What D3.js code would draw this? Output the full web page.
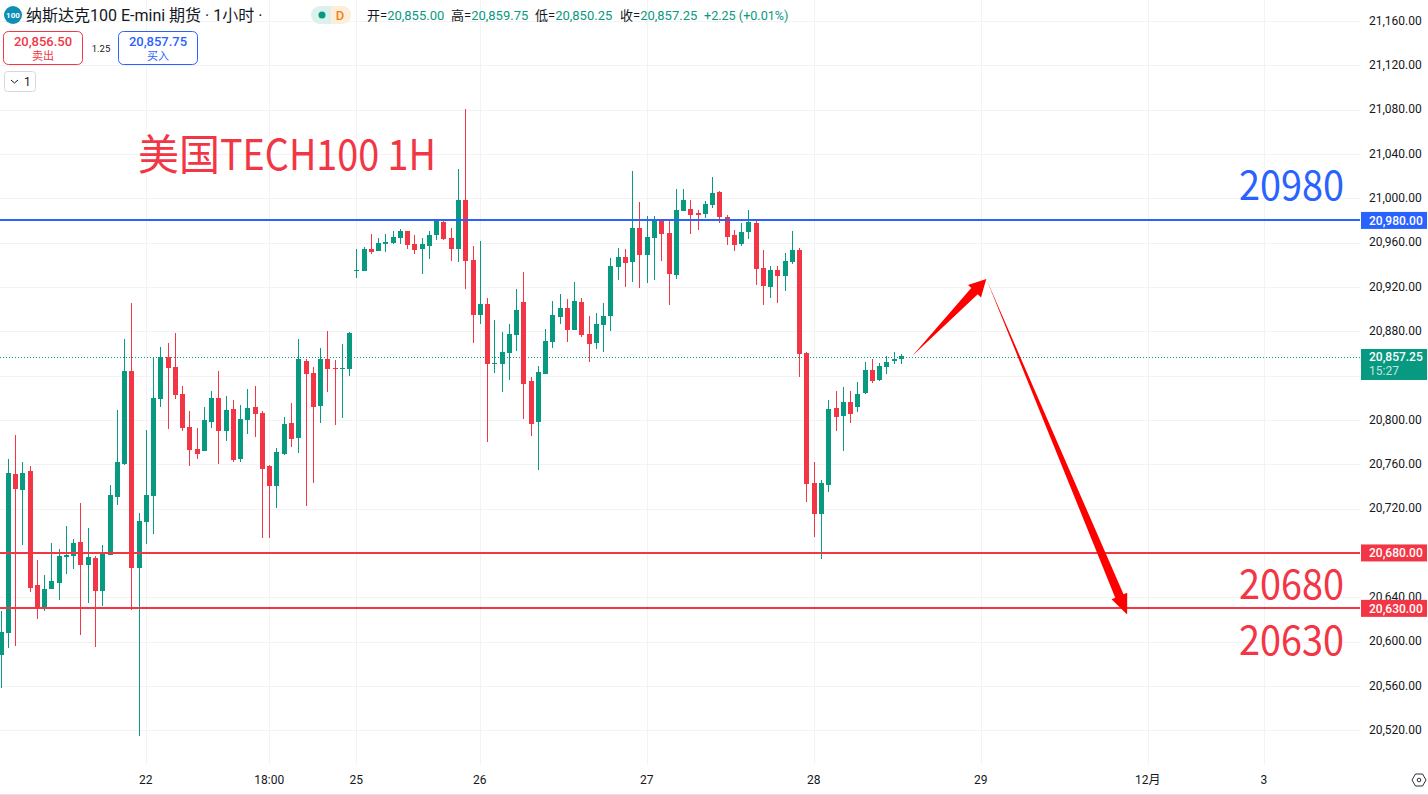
<!DOCTYPE html>
<html>
<head>
<meta charset="utf-8">
<title>美国TECH100 1H</title>
<script src="https://cdnjs.cloudflare.com/ajax/libs/d3/7.8.5/d3.min.js"></script>
<style>
  html, body { margin: 0; padding: 0; background: #fff; overflow: hidden; }
  svg { display: block; font-family: Roboto, "Noto Sans CJK SC", sans-serif; }
</style>
</head>
<body>
<div id="chart"></div>
<script>
// Hourly bars, oldest first
const opens = [
  20588, 20608, 20751, 20737, 20754, 20651, 20630.5, 20647.5, 20653, 20676.5, 20677, 20690, 20669, 20675.5, 20645.5, 20678, 20730.5, 20760, 20844, 20666.5, 20708, 20731.5, 20819, 20857, 20848,
  20823.5, 20793.5, 20774, 20772, 20798, 20820, 20790, 20810, 20765, 20800, 20811.5, 20806, 20758.5, 20740.5, 20769, 20797, 20783.5, 20853, 20842.5, 20812.5, 20855, 20847, 20846, 20846,
  20934.5, 20934.5, 20954, 20952.5, 20959, 20959.5, 20964, 20970.5, 20959, 20954, 20957, 20967, 20978.5, 20964, 20954, 20998.5, 20944.5, 20894.5, 20904.5, 20850.5, 20850.5, 20860.5, 20876.5, 20906.5, 20835, 20798, 20841.5,
  20870.5, 20893, 20901, 20881, 20906.5, 20877.5, 20869.5, 20885.5, 20894, 20938, 20947, 20942.5, 20973, 20949, 20964, 20981.5, 20968.5, 20931, 20988.5, 20990.5, 20987, 20986, 20994, 21005.5, 20983, 20967,
  20959, 20969.5, 20977.5, 20937, 20920, 20935.5, 20930, 20942.5, 20953.5, 20860.5, 20743, 20715, 20741,
  20811, 20803.5, 20816, 20811.5, 20824.5, 20845, 20836, 20848, 20853.5, 20855
];
const highs = [
  20628, 20765, 20786.5, 20762, 20758.5, 20674, 20660, 20689, 20683.5, 20704.5, 20692.5, 20725, 20702.5, 20677, 20687, 20741, 20809, 20873, 20905.5, 20716, 20791, 20857, 20866, 20869.5, 20878.5,
  20830.5, 20808, 20793, 20811.5, 20826, 20844, 20821.5, 20818, 20813.5, 20828, 20830.5, 20808, 20759.5, 20774.5, 20802.5, 20815, 20873, 20855, 20848, 20865, 20880.5, 20854, 20868.5, 20879.5,
  20954, 20956, 20968, 20964, 20968, 20970.5, 20972, 20970.5, 20967, 20964, 20970.5, 20980.5, 20980.5, 20973, 21026.5, 21080.5, 20957, 20961.5, 20910, 20890, 20879.5, 20886.5, 20918, 20933.5, 20839, 20848.5, 20882,
  20907.5, 20913.5, 20909, 20924.5, 20910, 20894, 20896.5, 20905.5, 20946, 20955, 20954.5, 21024.5, 20996.5, 20984, 20984, 20981.5, 20981.5, 21008.5, 21008.5, 20998.5, 20989.5, 20997.5, 21019, 21006.5, 20985, 20971.5,
  20977.5, 20989.5, 20981.5, 20953.5, 20939, 20939, 20950.5, 20970.5, 20955, 20861.5, 20762, 20746, 20818,
  20826, 20830, 20826, 20834.5, 20852.5, 20855, 20851.5, 20858, 20861.5, 20859.75
];
const lows = [
  20558.5, 20594, 20596, 20687, 20645, 20620.5, 20628, 20647.5, 20637.5, 20661, 20665.5, 20606, 20635, 20595, 20632, 20678, 20723, 20759.5, 20628.5, 20515, 20688, 20697, 20812, 20792, 20819,
  20790, 20758.5, 20765, 20772, 20793, 20760.5, 20781, 20762, 20762, 20787.5, 20784.5, 20693.5, 20693.5, 20720.5, 20768.5, 20775.5, 20770, 20722.5, 20743, 20797, 20825, 20795.5, 20802, 20839.5,
  20928, 20934.5, 20949.5, 20952.5, 20951.5, 20959, 20959, 20954, 20949.5, 20931.5, 20945, 20962.5, 20962.5, 20943.5, 20942.5, 20918, 20869.5, 20886.5, 20780, 20842.5, 20825, 20836, 20862, 20801, 20785.5, 20755, 20841.5,
  20865, 20886.5, 20870.5, 20881, 20875, 20852.5, 20864, 20861.5, 20880.5, 20926.5, 20920, 20924.5, 20919, 20923.5, 20926.5, 20943.5, 20904, 20927, 20988.5, 20968, 20971.5, 20982.5, 20991.5, 20978, 20958, 20952.5,
  20957, 20963.5, 20922, 20903.5, 20910, 20905.5, 20916.5, 20940.5, 20839, 20726, 20694.5, 20674.5, 20735,
  20790, 20772, 20797.5, 20807, 20823.5, 20833.5, 20835, 20841.5, 20850.5, 20850.25
];
const closes = [
  20609, 20752, 20738, 20752, 20648.5, 20630.5, 20647.5, 20655, 20677, 20678, 20689, 20669, 20676.5, 20645.5, 20680, 20732, 20762, 20844, 20666.5, 20709, 20732, 20820, 20857, 20847, 20822.5,
  20793, 20773, 20769, 20800, 20820, 20790, 20809, 20764, 20801, 20811, 20805.5, 20756, 20740.5, 20771, 20796.5, 20783, 20855, 20841.5, 20811.5, 20855, 20846, 20846, 20847, 20878.5,
  20935, 20954, 20951.5, 20959.5, 20960.5, 20965, 20970.5, 20958, 20953.5, 20959, 20967, 20979.5, 20963.5, 20954, 20998.5, 20943.5, 20894.5, 20904.5, 20850.5, 20851.5, 20861.5, 20877.5, 20899, 20832.5, 20796.5, 20843.5, 20871,
  20894.5, 20901, 20881, 20907.5, 20876.5, 20868.5, 20886.5, 20894, 20939, 20947, 20941.5, 20973, 20949, 20965, 20981.5, 20968, 20931.5, 20989.5, 20998.5, 20985, 20985, 20995, 21005, 20983, 20965, 20958,
  20969.5, 20978.5, 20936, 20921, 20935.5, 20930, 20943.5, 20953.5, 20859.5, 20742, 20715, 20743, 20810,
  20802.5, 20816, 20805.5, 20823.5, 20845, 20835, 20848.5, 20852.5, 20855, 20857.25
];

const priceTicks = d3.range(20520, 21161, 40);
const hiddenPriceLabels = [20840];   // sits behind the current price tag
const timeTickBars = [20, 37, 49, 66, 89, 112, 135, 158, 174];
const timeTickLabels = ['22', '18:00', '25', '26', '27', '28', '29', '12月', '3'];

const levelValues = [20980, 20680, 20630];
const levelKinds = ['blue', 'red', 'red'];
const lastPrice = 20857.25;
const countdown = '15:27';

// Drawn arrows in bar number / price
const arrowBars = [125.5, 135.7, 155.1];
const arrowPrices = [20857.7, 20927.2, 20624.5];

const headerValues = ['20,855.00', '20,859.75', '20,850.25', '20,857.25'];
const headerLabels = ['开', '高', '低', '收'];

const colors = {
  up: '#089981', down: '#f23645', blue: '#2962ff', red: '#f23645',
  grid: '#f3f3f3', text: '#131722', arrow: '#ff0000'
};

const width = 1428, height = 795, plotRight = 1361;

const svg = d3.select('#chart').append('svg')
  .attr('width', width)
  .attr('height', height);

const x = d3.scaleLinear().domain([0, 100]).range([1.1, 727.1]);
const y = d3.scaleLinear().domain([20520, 21160]).range([730.3, 20.9]);

// Grid
const grid = svg.append('g').attr('shape-rendering', 'crispEdges');
grid.selectAll('.h')
  .data(priceTicks)
  .enter().append('line')
  .attr('x1', 0).attr('x2', plotRight - 1)
  .attr('y1', d => Math.round(y(d)) + 0.5).attr('y2', d => Math.round(y(d)) + 0.5)
  .attr('stroke', colors.grid);
grid.selectAll('.v')
  .data(timeTickBars)
  .enter().append('line')
  .attr('x1', d => Math.floor(x(d)) + 0.5).attr('x2', d => Math.floor(x(d)) + 0.5)
  .attr('y1', 0).attr('y2', 764)
  .attr('stroke', colors.grid);

// Current price dotted line
svg.append('line')
  .attr('x1', 0).attr('x2', plotRight - 1)
  .attr('y1', Math.ceil(y(lastPrice)) + 0.5).attr('y2', Math.ceil(y(lastPrice)) + 0.5)
  .attr('stroke', colors.up)
  .attr('stroke-dasharray', '1 2');

// Candles
const bars = opens.map((o, i) => ({i, o, h: highs[i], l: lows[i], c: closes[i]}));
const candles = svg.append('g').attr('shape-rendering', 'crispEdges')
  .selectAll('g')
  .data(bars)
  .enter().append('g')
  .attr('fill', d => d.c >= d.o ? colors.up : colors.down);
candles.append('rect')
  .attr('x', d => Math.floor(x(d.i)))
  .attr('width', 1)
  .attr('y', d => y(d.h))
  .attr('height', d => y(d.l) - y(d.h));
candles.append('rect')
  .attr('x', d => Math.floor(x(d.i)) - 2)
  .attr('width', 5)
  .attr('y', d => y(Math.max(d.o, d.c)))
  .attr('height', d => Math.max(1, Math.abs(y(d.o) - y(d.c))));

// Horizontal levels
svg.append('g').attr('shape-rendering', 'crispEdges')
  .selectAll('line')
  .data(levelValues)
  .enter().append('line')
  .attr('x1', 0).attr('x2', plotRight - 1)
  .attr('y1', d => y(d)).attr('y2', d => y(d))
  .attr('stroke', (d, i) => colors[levelKinds[i]])
  .attr('stroke-width', 2);

// Arrow polygon from a to b, shaft tapers from a point
function arrowPath(a, b, headLen, headHalf, shaftHalf) {
  const dx = b[0] - a[0], dy = b[1] - a[1];
  const len = Math.hypot(dx, dy);
  const ux = dx / len, uy = dy / len;
  const nx = -uy, ny = ux;
  const bx = b[0] - ux * headLen, by = b[1] - uy * headLen;
  const pts = [
    a,
    [bx + nx * shaftHalf, by + ny * shaftHalf],
    [bx + nx * headHalf, by + ny * headHalf],
    b,
    [bx - nx * headHalf, by - ny * headHalf],
    [bx - nx * shaftHalf, by - ny * shaftHalf]
  ];
  return d3.line()(pts) + 'Z';
}
const arrowPts = arrowBars.map((b, i) => [x(b), y(arrowPrices[i])]);
svg.append('path').attr('d', arrowPath(arrowPts[0], arrowPts[1], 17, 9, 4.5)).attr('fill', colors.arrow);
svg.append('path').attr('d', arrowPath(arrowPts[1], arrowPts[2], 20, 8.5, 4.5)).attr('fill', colors.arrow);

// Price axis
const yAxis = svg.append('g')
  .attr('transform', `translate(${plotRight},0)`)
  .call(d3.axisRight(y)
    .tickValues(priceTicks.filter(d => !hiddenPriceLabels.includes(d)))
    .tickFormat(d3.format(',.2f'))
    .tickSize(0)
    .tickPadding(8));
yAxis.select('.domain').remove();
yAxis.selectAll('text')
  .attr('dy', '0.26em')
  .style('font-size', '12px')
  .style('font-family', 'Roboto, sans-serif')
  .style('fill', colors.text);

// Time axis
const xAxis = svg.append('g')
  .attr('transform', 'translate(-1,772)')
  .call(d3.axisBottom(x).tickValues(timeTickBars).tickFormat((d, i) => timeTickLabels[i]).tickSize(0).tickPadding(3));
xAxis.select('.domain').remove();
xAxis.selectAll('text')
  .style('font-size', '12px')
  .style('font-family', 'Roboto, "Noto Sans CJK SC", sans-serif')
  .style('fill', colors.text);
svg.append('line')
  .attr('x1', 0).attr('x2', width)
  .attr('y1', 794.5).attr('y2', 794.5)
  .attr('stroke', '#e0e3eb');

// Price tags on the axis
const tags = svg.selectAll('.tag')
  .data(levelValues)
  .enter().append('g')
  .attr('transform', d => `translate(${plotRight},${y(d)})`);
tags.append('rect')
  .attr('x', 0).attr('y', -8.5)
  .attr('width', 66).attr('height', 17)
  .attr('fill', (d, i) => colors[levelKinds[i]]);
tags.append('text')
  .attr('x', 8).attr('y', 4.5)
  .attr('fill', '#fff')
  .style('font-size', '12px')
  .style('font-weight', 500)
  .text(d => d3.format(',.2f')(d));

const lastTag = svg.append('g').attr('transform', `translate(${plotRight},${y(lastPrice)})`);
lastTag.append('rect')
  .attr('x', 0).attr('y', -7.5)
  .attr('width', 66).attr('height', 31)
  .attr('fill', colors.up);
lastTag.append('text')
  .attr('x', 8).attr('y', 4.5)
  .attr('fill', '#fff')
  .style('font-size', '12px')
  .style('font-weight', 500)
  .text(d3.format(',.2f')(lastPrice));
lastTag.append('text')
  .attr('x', 8).attr('y', 19)
  .attr('fill', '#fff')
  .attr('fill-opacity', 0.75)
  .style('font-size', '12px')
  .text(countdown);

// Settings icon
const gear = svg.append('g')
  .attr('transform', 'translate(1419,780)')
  .attr('fill', 'none')
  .attr('stroke', colors.text)
  .attr('stroke-width', 0.9);
gear.append('path').attr('d', 'M-7,0L-3.5,-6L3.5,-6L7,0L3.5,6L-3.5,6Z');
gear.append('circle').attr('r', 1.8);

// Big annotations, latin glyphs run narrower than the CJK font's
const cjk = '"Noto Sans CJK SC", "Noto Sans", sans-serif';
function bigText(left, base, color, size, txt, fitWidth) {
  svg.append('text')
    .attr('x', left).attr('y', base)
    .attr('fill', color)
    .attr('textLength', fitWidth)
    .attr('lengthAdjust', 'spacingAndGlyphs')
    .style('font-family', cjk).style('font-size', size + 'px')
    .text(txt);
}
bigText(138, 170, colors.red, 42, '美国', 82);
bigText(220, 170, colors.red, 42, 'TECH100 1H', 216);
bigText(1239, 200, colors.blue, 40, '20980', 105);
bigText(1239, 599, colors.red, 40, '20680', 105);
bigText(1239, 655, colors.red, 40, '20630', 105);

// Header
svg.append('circle').attr('cx', 13).attr('cy', 15).attr('r', 9).attr('fill', '#0e8eb5');
svg.append('text')
  .attr('x', 13).attr('y', 18)
  .attr('text-anchor', 'middle')
  .attr('fill', '#fff')
  .style('font-size', '8px').style('font-weight', 700)
  .text('100');
svg.append('text')
  .attr('x', 26).attr('y', 21)
  .attr('fill', colors.text)
  .style('font-family', 'Roboto, ' + cjk).style('font-size', '16px')
  .text('纳斯达克100 E-mini 期货 · 1小时 ·');

// Market status pill
svg.append('rect').attr('x', 311).attr('y', 6).attr('width', 40).attr('height', 18).attr('rx', 9).attr('fill', '#daf1ec');
svg.append('path').attr('d', 'M331,6H342a9,9 0 0 1 0,18H331Z').attr('fill', '#fdeed7');
svg.append('circle').attr('cx', 322).attr('cy', 15).attr('r', 3.5).attr('fill', colors.up);
svg.append('text')
  .attr('x', 340).attr('y', 20)
  .attr('text-anchor', 'middle')
  .attr('fill', '#f57f17')
  .style('font-size', '13px').style('font-weight', 500)
  .text('D');

// OHLC line
const ohlcX = [367, 451, 535, 620];
headerLabels.forEach((label, i) => {
  const t = svg.append('text')
    .attr('x', ohlcX[i]).attr('y', 20)
    .style('font-family', 'Roboto, ' + cjk).style('font-size', '13px');
  t.append('tspan').attr('fill', colors.text).text(label + '=');
  t.append('tspan').attr('fill', colors.up).text(headerValues[i]);
});
svg.append('text')
  .attr('x', 704).attr('y', 20)
  .attr('fill', colors.up)
  .style('font-size', '12.6px')
  .text('+2.25 (+0.01%)');

// Sell / buy buttons
function tradeButton(left, color, price, label) {
  const g = svg.append('g').attr('transform', `translate(${left},31)`);
  g.append('rect')
    .attr('x', 0.5).attr('y', 0.5)
    .attr('width', 79).attr('height', 33)
    .attr('rx', 5)
    .attr('fill', '#fff')
    .attr('stroke', color);
  g.append('text')
    .attr('x', 40).attr('y', 15)
    .attr('text-anchor', 'middle')
    .attr('fill', color)
    .style('font-size', '13px').style('font-weight', 500)
    .text(price);
  g.append('text')
    .attr('x', 40).attr('y', 29)
    .attr('text-anchor', 'middle')
    .attr('fill', color)
    .style('font-family', cjk).style('font-size', '11px')
    .text(label);
}
tradeButton(3, colors.red, '20,856.50', '卖出');
tradeButton(118, colors.blue, '20,857.75', '买入');
svg.append('text')
  .attr('x', 101).attr('y', 52)
  .attr('text-anchor', 'middle')
  .attr('fill', colors.text)
  .style('font-size', '9.5px')
  .text('1.25');

// Collapsed indicator count
svg.append('rect')
  .attr('x', 4.5).attr('y', 71.5)
  .attr('width', 31).attr('height', 20)
  .attr('rx', 3)
  .attr('fill', '#fff')
  .attr('stroke', '#d6d8de');
svg.append('path')
  .attr('d', 'M11,80L14.5,83L18,80')
  .attr('fill', 'none')
  .attr('stroke', colors.text);
svg.append('text')
  .attr('x', 24).attr('y', 86)
  .attr('fill', colors.text)
  .style('font-size', '12px')
  .text('1');
</script>
</body>
</html>
